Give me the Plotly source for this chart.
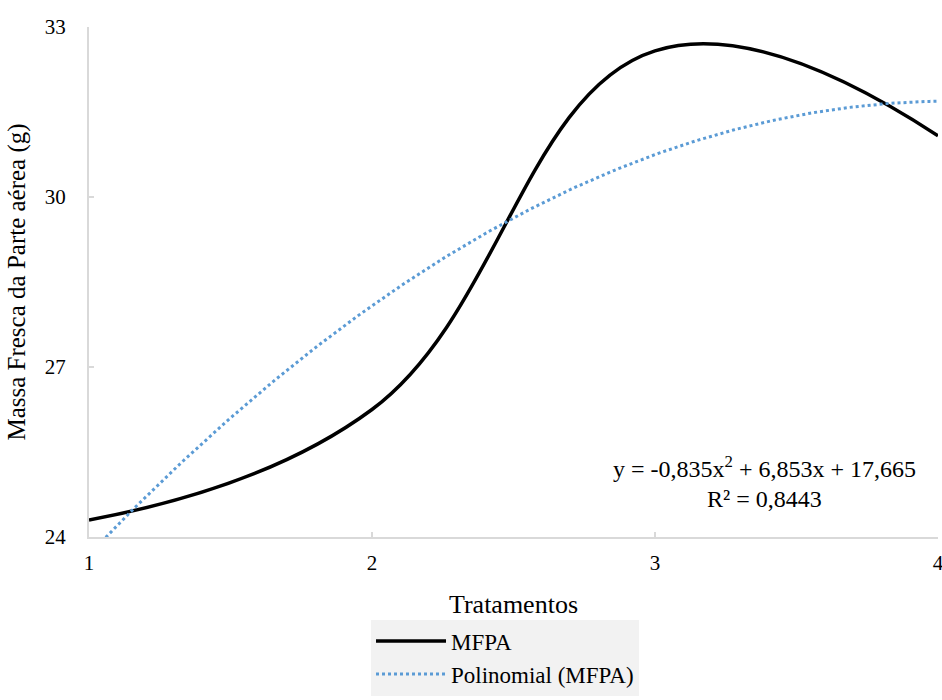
import numpy as np
import plotly.graph_objects as go

tratamentos = [1, 2, 3, 4]
mfpa = [24.3, 26.25, 32.58, 31.08]
eq_line1 = "y = -0,835x<sup>2</sup> + 6,853x + 17,665"
eq_line2 = "R² = 0,8443"

coef = np.polyfit(tratamentos, mfpa, 2)
xs = np.linspace(1, 4, 200)
ys = np.polyval(coef, xs)

FONT = "Liberation Serif"

fig = go.Figure()
fig.add_trace(go.Scatter(x=tratamentos, y=mfpa, mode="lines", name="MFPA",
                         line=dict(color="black", width=3.5, shape="spline", smoothing=1.2)))
fig.add_trace(go.Scatter(x=xs, y=ys, mode="lines", name="Polinomial (MFPA)",
                         line=dict(color="#5b9bd5", width=3, dash="dot")))

fig.add_annotation(x=0.7956, y=0.1053, xref="paper", yref="paper", text=eq_line1,
                   xanchor="center", yanchor="bottom", borderpad=0,
                   showarrow=False, font=dict(family=FONT, size=24, color="black"))
fig.add_annotation(x=0.7956, y=0.0741, xref="paper", yref="paper", text=eq_line2,
                   xanchor="center", yanchor="middle", borderpad=0,
                   showarrow=False, font=dict(family=FONT, size=24, color="black"))

fig.update_layout(
    width=942, height=700,
    margin=dict(l=89, r=4, t=27, b=160),
    plot_bgcolor="white", paper_bgcolor="white",
    font=dict(family=FONT, size=21, color="black"),
    showlegend=True,
    legend=dict(x=0.49, y=-0.162, xanchor="center", yanchor="top", bgcolor="#f2f2f2",
                font=dict(family=FONT, size=23), itemwidth=70, tracegroupgap=0),
    xaxis=dict(range=[1, 4], tickvals=[1, 2, 3, 4], showgrid=False, zeroline=False,
               showline=True, linecolor="#d9d9d9", linewidth=2, ticks="inside", ticklen=5,
               tickcolor="#d9d9d9", tickwidth=2, automargin=False, ticklabelstandoff=6,
               ticklabeloverflow="allow",
               title=dict(text="Tratamentos", font=dict(size=26), standoff=21),
               tickfont=dict(size=21)),
    yaxis=dict(range=[24, 33], tickvals=[24, 27, 30, 33], showgrid=False, zeroline=False,
               showline=True, linecolor="#d9d9d9", linewidth=2, ticks="inside", ticklen=5,
               tickcolor="#d9d9d9", tickwidth=2, automargin=False, ticklabelstandoff=17,
               ticklabeloverflow="allow",
               title=dict(text="Massa Fresca da Parte aérea (g)", font=dict(size=25), standoff=12),
               tickfont=dict(size=21)),
)

fig.write_html("out.html", config={"displayModeBar": False},
               post_script="document.body.style.margin='0';document.body.style.overflow='hidden';")
